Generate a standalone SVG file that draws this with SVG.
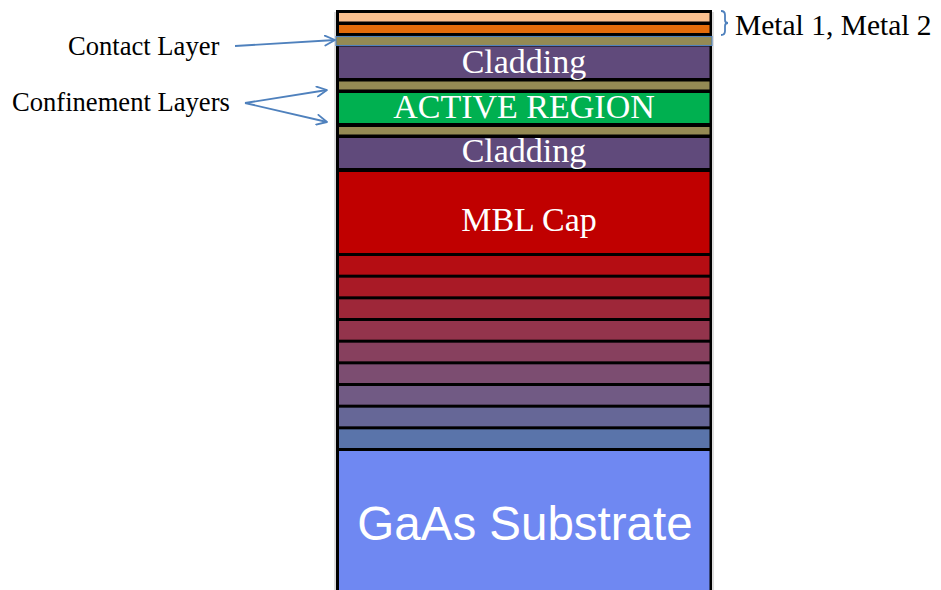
<svg xmlns="http://www.w3.org/2000/svg" width="941" height="590" viewBox="0 0 941 590">
  <style>
    .lbl { font-family: "Liberation Serif", "Times New Roman", serif; font-size: 26.6px; fill: #000; }
    .big { font-size: 29.5px; }
    .in  { font-family: "Liberation Serif", "Times New Roman", serif; font-size: 34px; fill: #fff; text-anchor: middle; }
    .sub { font-family: "Liberation Sans", Arial, sans-serif; font-size: 47.5px; fill: #fff; text-anchor: middle; }
    .conn { stroke: #4F81BD; stroke-width: 1.8; fill: none; }
  </style>
  <defs>
    <marker id="openArrow" viewBox="0 0 12 12" refX="11" refY="6" markerWidth="12" markerHeight="12" markerUnits="userSpaceOnUse" orient="auto">
      <path d="M1,1 L11,6 L1,11" fill="none" stroke="#4F81BD" stroke-width="1.8" stroke-linecap="round" stroke-linejoin="round"/>
    </marker>
  </defs>

  <rect width="941" height="590" fill="#fff"/>

  <!-- layer stack: black frame with coloured layers inside -->
  <g id="stack">
    <line x1="335" y1="12" x2="335" y2="590" stroke="#bbb" stroke-width="1"/>
    <line x1="713" y1="12" x2="713" y2="590" stroke="#bbb" stroke-width="1"/>
    <rect x="336" y="10" width="376" height="582" fill="#000"/>
  </g>

  <g id="metal1"><rect x="339" y="13" width="370.5" height="8.5" fill="#FAC08F"/></g>
  <g id="metal2"><rect x="339" y="25" width="370.5" height="8" fill="#E46C0A"/></g>
  <g id="contact-layer"><rect x="336" y="36.5" width="376" height="9" fill="#948A54" stroke="#4F81BD" stroke-width="1.1"/></g>
  <g id="cladding-top">
    <rect x="339" y="46.5" width="370.5" height="31.5" fill="#604A7B"/>
    <text class="in" x="524" y="73">Cladding</text>
  </g>
  <g id="confinement-top"><rect x="339" y="81.5" width="370.5" height="8" fill="#948A54"/></g>
  <g id="active-region">
    <rect x="339" y="93" width="370.5" height="30" fill="#00B050"/>
    <text class="in" x="524" y="118">ACTIVE REGION</text>
  </g>
  <g id="confinement-bottom"><rect x="339" y="127" width="370.5" height="7.5" fill="#948A54"/></g>
  <g id="cladding-bottom">
    <rect x="339" y="138" width="370.5" height="30" fill="#604A7B"/>
    <text class="in" x="524" y="162">Cladding</text>
  </g>
  <g id="mbl-cap">
    <rect x="339" y="172" width="370.5" height="81" fill="#C00000"/>
    <text class="in" x="529" y="231">MBL Cap</text>
  </g>

  <!-- graded buffer: nine steps from red to blue -->
  <g id="graded-buffer">
    <rect x="339" y="256"    width="370.5" height="18.67" fill="#B50D13"/>
    <rect x="339" y="277.67" width="370.5" height="18.67" fill="#A91A26"/>
    <rect x="339" y="299.33" width="370.5" height="18.67" fill="#9E2739"/>
    <rect x="339" y="321"    width="370.5" height="18.67" fill="#93344C"/>
    <rect x="339" y="342.67" width="370.5" height="18.67" fill="#87405E"/>
    <rect x="339" y="364.33" width="370.5" height="18.67" fill="#7C4D71"/>
    <rect x="339" y="386"    width="370.5" height="18.67" fill="#715A84"/>
    <rect x="339" y="407.67" width="370.5" height="18.67" fill="#666797"/>
    <rect x="339" y="429.33" width="370.5" height="18.67" fill="#5A74AA"/>
  </g>

  <g id="substrate">
    <rect x="339" y="451" width="370.5" height="139" fill="#6F88F2"/>
    <text class="sub" x="525" y="540">GaAs Substrate</text>
  </g>

  <!-- side labels -->
  <g id="label-contact"><text class="lbl" x="68" y="55">Contact Layer</text></g>
  <g id="label-confinement"><text class="lbl" x="12" y="111">Confinement Layers</text></g>
  <g id="label-metal">
    <path class="conn" stroke-width="1.3" d="M721,11 Q725,11 725,15 L725,20 Q725,23 728,23 Q725,23 725,26 L725,31 Q725,35 721,35"/>
    <text class="lbl big" x="735" y="35">Metal 1, Metal 2</text>
  </g>

  <g id="connectors">
    <line class="conn" x1="235" y1="46" x2="335" y2="40" marker-end="url(#openArrow)"/>
    <line class="conn" x1="245" y1="103" x2="327" y2="90" marker-end="url(#openArrow)"/>
    <line class="conn" x1="245" y1="103" x2="327" y2="122" marker-end="url(#openArrow)"/>
  </g>
</svg>
